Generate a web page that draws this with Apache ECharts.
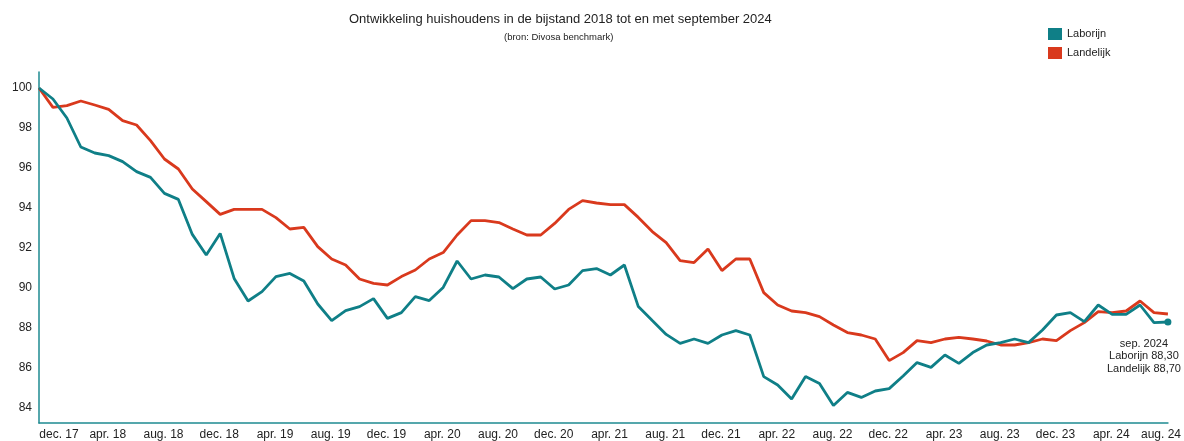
<!DOCTYPE html>
<html>
<head>
<meta charset="utf-8">
<title>Ontwikkeling huishoudens in de bijstand</title>
<script src="https://cdn.jsdelivr.net/npm/echarts@6.0.0/dist/echarts.min.js"></script>
<style>
  html, body { margin: 0; padding: 0; background: #fff; }
  #chart { width: 1184px; height: 441px; }
</style>
</head>
<body>
<div id="chart"></div>
<script>
// maanden dec. 17 t/m sep. 24
const monthNames = ['jan.', 'feb.', 'mrt.', 'apr.', 'mei', 'jun.', 'jul.', 'aug.', 'sep.', 'okt.', 'nov.', 'dec.']
const months = ['dec. 17']
for (let y = 18; y <= 24; y++) {
  for (let m = 0; m < 12; m++) {
    if (y === 24 && m > 8) break
    months.push(monthNames[m] + ' ' + y)
  }
}

const laborijn = [
  100, 99.45, 98.5, 97.05, 96.75, 96.62, 96.32, 95.82, 95.53, 94.73, 94.43, 92.68,
  91.65, 92.73, 90.48, 89.35, 89.82, 90.57, 90.73, 90.35, 89.2, 88.37, 88.87, 89.07,
  89.47, 88.48, 88.77, 89.57, 89.37, 90.03, 91.35, 90.45, 90.65, 90.55, 89.97, 90.45,
  90.55, 89.95, 90.15, 90.87, 90.97, 90.65, 91.15, 89.07, 88.37, 87.68, 87.23, 87.45,
  87.23, 87.65, 87.87, 87.65, 85.57, 85.15, 84.45, 85.57, 85.23, 84.13, 84.78, 84.53,
  84.85, 84.97, 85.6, 86.27, 86.03, 86.65, 86.23, 86.77, 87.15, 87.27, 87.45, 87.27,
  87.9, 88.65, 88.77, 88.32, 89.15, 88.68, 88.68, 89.15, 88.27, 88.3
]

const landelijk = [
  100, 99.03, 99.12, 99.35, 99.15, 98.93, 98.37, 98.15, 97.37, 96.45, 95.95, 94.95,
  94.32, 93.68, 93.93, 93.93, 93.93, 93.52, 92.95, 93.03, 92.07, 91.45, 91.15, 90.45,
  90.23, 90.15, 90.57, 90.9, 91.45, 91.77, 92.65, 93.37, 93.37, 93.27, 92.95, 92.65,
  92.65, 93.23, 93.93, 94.37, 94.25, 94.17, 94.17, 93.53, 92.82, 92.27, 91.37, 91.27,
  91.95, 90.87, 91.45, 91.45, 89.77, 89.15, 88.85, 88.77, 88.57, 88.15, 87.77, 87.65,
  87.45, 86.37, 86.77, 87.37, 87.27, 87.45, 87.53, 87.45, 87.35, 87.15, 87.15, 87.27,
  87.45, 87.37, 87.87, 88.27, 88.82, 88.77, 88.85, 89.35, 88.77, 88.7
]

const yTicks = [84, 86, 88, 90, 92, 94, 96, 98, 100]
const lastLabel = 'sep. 2024'

const TEAL = '#0f7f87'
const RED = '#d9391d'
const AXIS = '#1e8a91'
const FONT = 'Liberation Sans, Arial, sans-serif'

const last = laborijn.length - 1
const fmt = v => v.toFixed(2).replace('.', ',')

const laborijnData = laborijn.map((v, i) => {
  if (i !== last) return v
  return {
    value: v,
    symbol: 'circle',
    symbolSize: 7,
    label: {
      show: true,
      position: 'bottom',
      distance: 5,
      offset: [-24, 7],
      align: 'center',
      fontSize: 11,
      lineHeight: 12.5,
      color: '#222',
      fontFamily: FONT,
      formatter: () => lastLabel + '\nLaborijn ' + fmt(laborijn[last]) + '\nLandelijk ' + fmt(landelijk[last]),
    },
  }
})

const chart = echarts.init(document.getElementById('chart'))

chart.setOption({
  animation: false,
  textStyle: { fontFamily: FONT },
  title: [
    {
      text: 'Ontwikkeling huishoudens in de bijstand 2018 tot en met september 2024',
      left: 349, top: 13, padding: 0,
      textStyle: { fontSize: 13, fontWeight: 'normal', color: '#222', fontFamily: FONT },
    },
    {
      text: '(bron: Divosa benchmark)',
      left: 504, top: 32, padding: 0,
      textStyle: { fontSize: 9.5, fontWeight: 'normal', color: '#222', fontFamily: FONT },
    },
  ],
  legend: {
    orient: 'vertical',
    left: 1048, top: 28, padding: 0,
    itemWidth: 14, itemHeight: 12, itemGap: 7,
    icon: 'rect',
    textStyle: { fontSize: 11, color: '#222', fontFamily: FONT },
    data: ['Laborijn', 'Landelijk'],
  },
  grid: { left: 39, right: 15, top: 72, bottom: 18, containLabel: false },
  xAxis: {
    type: 'category',
    data: months,
    boundaryGap: false,
    axisLine: { lineStyle: { color: AXIS, width: 1.5 } },
    axisTick: { show: false },
    axisLabel: {
      interval: 3,
      margin: 6,
      padding: [0, 0, 0, 26],
      fontSize: 12,
      color: '#222',
      formatter: (val, idx) => {
        if (idx === 0) return '{a|' + val + '}'
        if (idx === 80) return '{b|' + val + '}'
        return val
      },
      rich: {
        a: { padding: [0, 0, 0, 14], fontSize: 12, color: '#222', fontFamily: FONT },
        b: { padding: [0, 12, 0, 0], fontSize: 12, color: '#222', fontFamily: FONT },
      },
    },
    splitLine: { show: false },
  },
  yAxis: {
    type: 'value',
    min: 83.25,
    max: 100.8,
    axisLine: { show: true, lineStyle: { color: AXIS, width: 1.5 } },
    axisTick: { show: false },
    splitLine: { show: false },
    axisLabel: {
      customValues: yTicks,
      margin: 7,
      fontSize: 12,
      color: '#222',
    },
  },
  series: [
    {
      name: 'Laborijn',
      type: 'line',
      data: laborijnData,
      symbol: 'none',
      itemStyle: { color: TEAL },
      lineStyle: { color: TEAL, width: 2.8 },
      z: 3,
    },
    {
      name: 'Landelijk',
      type: 'line',
      data: landelijk,
      symbol: 'none',
      itemStyle: { color: RED },
      lineStyle: { color: RED, width: 2.8 },
      z: 2,
    },
  ],
})
</script>
</body>
</html>
